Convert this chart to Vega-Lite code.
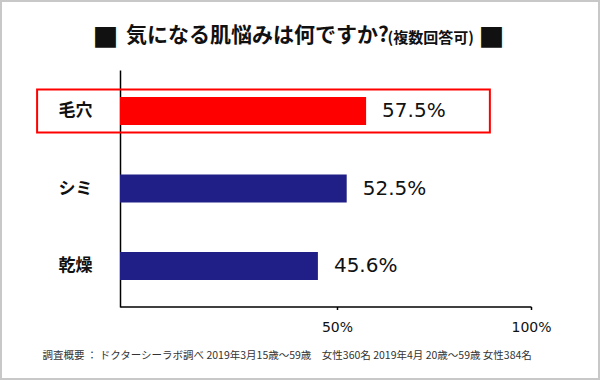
{
  "$schema": "https://vega.github.io/schema/vega-lite/v6.json",
  "width": 598,
  "height": 378,
  "padding": 1,
  "autosize": {"type": "none"},
  "background": "white",
  "config": {"view": {"stroke": "#c8c8c8", "strokeWidth": 2}},
  "title": {
    "text": "気になる肌悩みは何ですか?",
    "font": "Noto Sans CJK JP",
    "fontSize": 21,
    "fontWeight": "bold",
    "color": "#111111",
    "anchor": "start",
    "frame": "group",
    "dx": 125,
    "offset": -45
  },
  "data": {
    "values": [
      {"item": "毛穴", "pct": 57.5},
      {"item": "シミ", "pct": 52.5},
      {"item": "乾燥", "pct": 45.6}
    ]
  },
  "transform": [{"calculate": "format(datum.pct, '.1f') + '%'", "as": "label"}],
  "resolve": {"axis": {"y": "independent"}},
  "encoding": {
    "x": {
      "field": "pct",
      "type": "quantitative",
      "scale": {"domain": [0, 50, 100], "range": [119, 336, 530], "nice": false},
      "axis": {
        "offset": -72.5,
        "values": [50, 100],
        "labelExpr": "datum.value + '%'",
        "grid": false,
        "labelFlush": false,
        "domainColor": "#000000",
        "domainWidth": 1.5,
        "tickColor": "#000000",
        "tickSize": 3,
        "tickWidth": 1.5,
        "labelFont": "DejaVu Sans",
        "labelFontSize": 14,
        "labelColor": "#111111",
        "labelPadding": 11,
        "title": "調査概要 ： ドクターシーラボ調べ 2019年3月15歳～59歳\u3000女性360名 2019年4月 20歳～59歳 女性384名",
        "titleFont": "Noto Sans CJK JP",
        "titleFontSize": 10.5,
        "titleFontWeight": "normal",
        "titleColor": "#333333",
        "titleAlign": "left",
        "titleBaseline": "alphabetic",
        "titleX": 41,
        "titleY": 51.5
      }
    }
  },
  "layer": [
    {
      "mark": {"type": "bar", "size": 28},
      "encoding": {
        "y": {
          "field": "item",
          "type": "nominal",
          "sort": ["毛穴", "シミ", "乾燥"],
          "scale": {"range": [69, 306], "paddingInner": 0, "paddingOuter": 0.03},
          "axis": {
            "orient": "left",
            "offset": -119,
            "domainColor": "#000000",
            "domainWidth": 1.5,
            "ticks": false,
            "tickSize": 0,
            "labelFont": "Noto Sans CJK JP",
            "labelFontSize": 17,
            "labelFontWeight": "bold",
            "labelColor": "#111111",
            "labelPadding": 28,
            "title": "(複数回答可)",
            "titleFont": "Noto Sans CJK JP",
            "titleFontSize": 15,
            "titleFontWeight": "bold",
            "titleColor": "#111111",
            "titleAngle": 0,
            "titleAlign": "left",
            "titleBaseline": "alphabetic",
            "titleX": 267,
            "titleY": 41
          }
        },
        "color": {
          "field": "item",
          "type": "nominal",
          "scale": {"domain": ["毛穴", "シミ", "乾燥"], "range": ["#ff0000", "#1f1f87", "#1f1f87"]},
          "legend": null
        }
      }
    },
    {
      "mark": {"type": "text", "align": "left", "baseline": "middle", "dx": 16, "font": "DejaVu Sans", "fontSize": 20, "fontWeight": "normal", "color": "#111111"},
      "encoding": {
        "y": {
          "field": "item",
          "type": "nominal",
          "sort": ["毛穴", "シミ", "乾燥"],
          "axis": {
            "orient": "left",
            "offset": 0,
            "domain": false,
            "ticks": false,
            "labels": false,
            "title": "■",
            "titleFont": "Noto Sans CJK JP",
            "titleFontSize": 26,
            "titleFontWeight": "bold",
            "titleColor": "#111111",
            "titleAngle": 0,
            "titleAlign": "left",
            "titleBaseline": "alphabetic",
            "titleX": 91,
            "titleY": 45
          }
        },
        "text": {"field": "label"}
      }
    },
    {
      "transform": [{"filter": "datum.item === '毛穴'"}],
      "mark": {"type": "bar", "size": 43, "filled": false, "color": "#ff0000", "strokeWidth": 2},
      "encoding": {
        "y": {
          "field": "item",
          "type": "nominal",
          "sort": ["毛穴", "シミ", "乾燥"],
          "axis": {
            "orient": "right",
            "offset": 0,
            "domain": false,
            "ticks": false,
            "labels": false,
            "title": "■",
            "titleFont": "Noto Sans CJK JP",
            "titleFontSize": 26,
            "titleFontWeight": "bold",
            "titleColor": "#111111",
            "titleAngle": 0,
            "titleAlign": "left",
            "titleBaseline": "alphabetic",
            "titleX": -121,
            "titleY": 45
          }
        },
        "x": {"datum": -19.1, "type": "quantitative"},
        "x2": {"datum": 89.4}
      }
    }
  ]
}
